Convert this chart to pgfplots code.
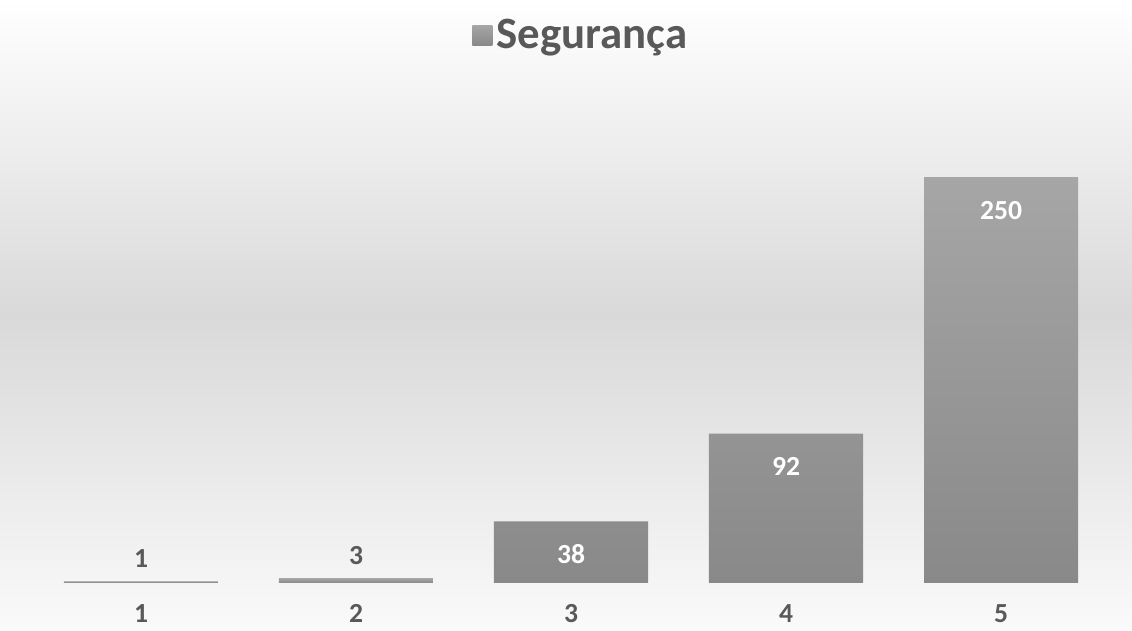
\documentclass[border=0pt]{standalone}
\usepackage{pgfplots}
\pgfplotsset{compat=1.18}
\usepackage{fontspec}
\setmainfont{Carlito}
\definecolor{txt}{HTML}{595959}
\definecolor{bartop}{HTML}{A6A6A6}
\definecolor{barbot}{HTML}{898989}
\definecolor{bgmid}{HTML}{D9D9D9}
\definecolor{bgbot}{HTML}{FAFAFA}
\begin{document}
\begin{tikzpicture}
\shade[top color=white, bottom color=bgbot, middle color=bgmid] (-16.75pt,-24pt) rectangle (549.25pt,291.5pt);
\begin{axis}[
  at={(0pt,0pt)}, anchor=south west,
  scale only axis, width=537.5pt, height=243.5pt,
  ybar, bar width=77pt,
  xmin=0.5, xmax=5.5, ymin=0, ymax=300,
  xtick={1,2,3,4,5}, xticklabels={1,2,3,4,5},
  ytick=\empty,
  axis line style={draw=none}, major tick style={draw=none},
  xticklabel style={font=\fontsize{13.8}{16}\selectfont\bfseries, text=txt, anchor=center, yshift=-11pt},
  /pgf/number format/assume math mode=true,
  clip=false,
  legend style={at={(0.51,1.125)}, anchor=center, draw=none, fill=none, font=\fontsize{22.4}{25}\selectfont\bfseries, text=txt, /tikz/every even column/.append style={column sep=0pt}},
  legend image code/.code={\shade[top color=bartop, bottom color=barbot] (0pt,-5pt) rectangle (10pt,5pt);},
]
\addplot[draw=none, top color=bartop, bottom color=barbot, bar shift=0pt,
  nodes near coords, every node near coord/.append style={anchor=center, yshift=11.4pt, text=txt, font=\fontsize{13.8}{16}\selectfont\bfseries}]
  coordinates {(1,1) (2,3)};
\addlegendentry{Segurança}
\addplot[draw=none, top color=bartop, bottom color=barbot, bar shift=0pt, forget plot,
  nodes near coords, every node near coord/.append style={anchor=center, yshift=-16.5pt, text=white, font=\fontsize{13.8}{16}\selectfont\bfseries}]
  coordinates {(3,38) (4,92) (5,250)};
\end{axis}
\pgfresetboundingbox
\path[use as bounding box] (-16.75pt,-24pt) rectangle (549.25pt,291.5pt);
\end{tikzpicture}
\end{document}
